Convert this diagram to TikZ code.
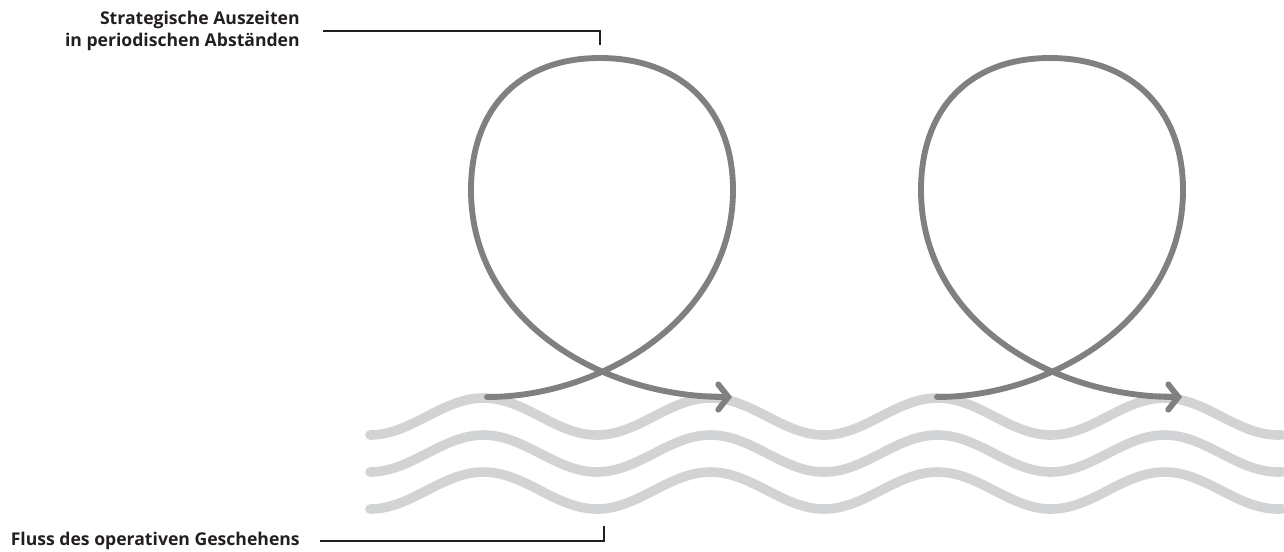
\documentclass[tikz,border=0pt]{standalone}
\usepackage{fontspec}
\setmainfont{Open Sans}
\usetikzlibrary{arrows.meta,calc}
\definecolor{ink}{RGB}{35,31,32}
\definecolor{loopgray}{RGB}{128,128,131}
\definecolor{wavegray}{RGB}{210,211,213}
\tikzset{
  wave/.style={wavegray, line width=7.2pt, line cap=round},
  pause/.style={loopgray, line width=4.4pt, line cap=round,
    -{Straight Barb[length=7.5pt, width=19pt, line cap=round]}},
  leader/.style={ink, line width=1pt},
  label/.style={font=\bfseries\fontsize{13.2}{16.2}\selectfont, text=ink, inner sep=0pt, align=right}
}
\begin{document}
\begin{tikzpicture}[x=0.75pt, y=-0.75pt]
\useasboundingbox (0,0) rectangle (1284,551);
% flow waves
\foreach \yb in {435,472,509} {
  \draw[wave] plot[domain=0:912, samples=220] (370+\x, {\yb-18.5+18.5*cos(1.5859*\x)});
}
% strategic loops
\foreach \dx in {0,450} {
  \begin{scope}[xshift=\dx*0.75pt]
  \draw[pause] (487,397) .. controls (600,397) and (733,320) .. (733,190)
    .. controls (733,108) and (680,58) .. (600,58)
    .. controls (520,58) and (471,108) .. (471,190)
    .. controls (471,320) and (600,397) .. (732,397);
  \end{scope}
}
% labels
\node[label, anchor=east] (auszeit) at (300,31) {Strategische Auszeiten\\in periodischen Abständen};
\node[label, anchor=east] (fluss) at (300,541) {Fluss des operativen Geschehens};
\coordinate (loopTop) at (600,45);
\coordinate (waveBottom) at (604,526);
\draw[leader] ([xshift=17]auszeit.east) -| (loopTop);
\draw[leader] ([xshift=15]fluss.east) -| (waveBottom);
\end{tikzpicture}
\end{document}
